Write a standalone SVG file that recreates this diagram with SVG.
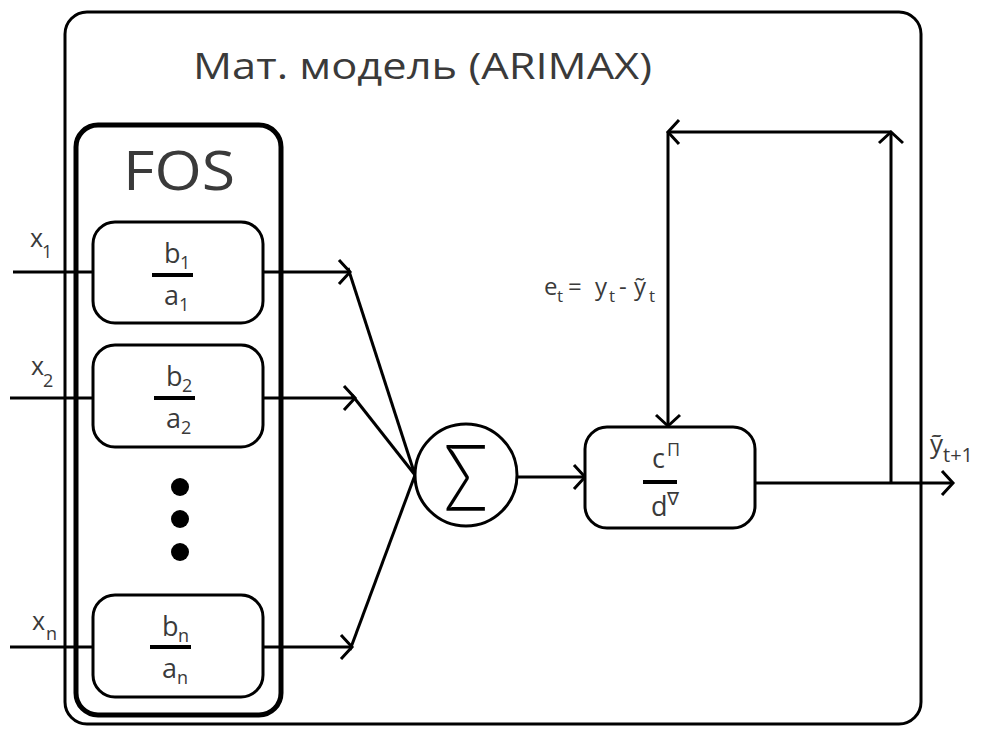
<svg xmlns="http://www.w3.org/2000/svg" width="983" height="729" viewBox="0 0 983 729">
<style>
.ln{stroke:#000;stroke-width:3;fill:none}
.box{stroke:#000;stroke-width:3;fill:#fff}
.bar{stroke:#000;stroke-width:4}
.t{font-family:"Open Sans","Noto Sans","Liberation Sans",sans-serif;fill:#3a3a3a}
.m{font-size:27px}
.s{font-size:18px}
.e{font-size:24px}
.es{font-size:17px}
</style>
<defs>
<marker id="ar" markerUnits="userSpaceOnUse" markerWidth="30" markerHeight="30" viewBox="-15 -15 30 30" refX="0" refY="0" orient="auto">
<path d="M-11,-12 L0,0 L-11,12" fill="none" stroke="#000" stroke-width="3"/>
</marker>
</defs>
<rect width="983" height="729" fill="#fff"/>
<g id="model">
<rect x="65" y="12" width="856" height="712" rx="22" class="ln"/>
<text class="t" x="193" y="79" font-size="36" textLength="459" lengthAdjust="spacingAndGlyphs">Мат. модель (ARIMAX)</text>
</g>
<g id="fos">
<rect x="76" y="125" width="205" height="590" rx="22" fill="none" stroke="#000" stroke-width="5"/>
<text class="t" x="123" y="190" font-size="54" textLength="112" lengthAdjust="spacingAndGlyphs">FOS</text>
<circle cx="180" cy="487" r="9"/>
<circle cx="180" cy="519" r="9"/>
<circle cx="180" cy="552" r="9"/>
</g>
<g id="connectors">
<line x1="13" y1="272" x2="93" y2="272" class="ln"/>
<line x1="10" y1="398" x2="93" y2="398" class="ln"/>
<line x1="10" y1="647" x2="93" y2="647" class="ln"/>
<line x1="263" y1="272" x2="350" y2="272" class="ln" marker-end="url(#ar)"/>
<line x1="263" y1="398" x2="355" y2="398" class="ln" marker-end="url(#ar)"/>
<line x1="263" y1="647" x2="352" y2="647" class="ln" marker-end="url(#ar)"/>
<line x1="348" y1="268" x2="415" y2="475" class="ln"/>
<line x1="352" y1="395" x2="415" y2="475" class="ln"/>
<line x1="350" y1="650" x2="415" y2="475" class="ln"/>
<line x1="517" y1="477" x2="585" y2="477" class="ln" marker-end="url(#ar)"/>
<line x1="755" y1="483" x2="953" y2="483" class="ln" marker-end="url(#ar)"/>
<line x1="891" y1="483" x2="891" y2="132" class="ln" marker-end="url(#ar)"/>
<line x1="891" y1="132" x2="668" y2="132" class="ln" marker-end="url(#ar)"/>
<line x1="668" y1="132" x2="668" y2="426" class="ln" marker-end="url(#ar)"/>
</g>
<g id="f1">
<rect x="93" y="222" width="170" height="101" rx="22" class="box"/>
<line x1="152" y1="275" x2="193" y2="275" class="bar"/>
<text class="t m" x="164" y="263">b</text><text class="t s" x="180" y="269">1</text>
<text class="t m" x="164" y="305">a</text><text class="t s" x="179" y="311">1</text>
</g>
<g id="f2">
<rect x="93" y="345" width="170" height="102" rx="22" class="box"/>
<line x1="154" y1="398" x2="195" y2="398" class="bar"/>
<text class="t m" x="166" y="386">b</text><text class="t s" x="182" y="392">2</text>
<text class="t m" x="166" y="428">a</text><text class="t s" x="181" y="434">2</text>
</g>
<g id="fn">
<rect x="93" y="595" width="170" height="102" rx="22" class="box"/>
<line x1="150" y1="647" x2="191" y2="647" class="bar"/>
<text class="t m" x="162" y="636">b</text><text class="t s" x="178" y="642">n</text>
<text class="t m" x="162" y="678">a</text><text class="t s" x="177" y="684">n</text>
</g>
<g id="sum">
<circle cx="466" cy="475" r="51" class="box"/>
<text x="466" y="511" text-anchor="middle" font-family="Lato,'DejaVu Sans',sans-serif" font-weight="300" font-size="92" fill="#000" transform="translate(466 0) scale(0.8 1) translate(-466 0)">Σ</text>
</g>
<g id="arma">
<rect x="585" y="427" width="170" height="101" rx="22" class="box"/>
<line x1="643" y1="482" x2="677" y2="482" class="bar"/>
<text class="t m" x="652" y="468">c</text><text class="t s" x="667" y="456">Π</text>
<text class="t m" x="651" y="516">d</text><text class="t s" x="667" y="505">∇</text>
</g>
<g id="labels">
<text class="t" x="30" y="247" font-size="25">x</text><text class="t s" x="42" y="258">1</text>
<text class="t" x="31" y="375" font-size="25">x</text><text class="t s" x="43" y="387">2</text>
<text class="t" x="32" y="630" font-size="25">x</text><text class="t s" x="46" y="640">n</text>
<text class="t e" x="544" y="295">e</text><text class="t es" x="557" y="302">t</text>
<text class="t e" x="568" y="295">=</text>
<text class="t e" x="595" y="295">y</text><text class="t es" x="609" y="302">t</text>
<text class="t e" x="619" y="295">-</text>
<text class="t e" x="634" y="295">ỹ</text><text class="t es" x="649" y="302">t</text>
<text class="t" x="930" y="453" font-size="26">ỹ<tspan font-size="20" dy="9">t+1</tspan></text>
</g>
</svg>
